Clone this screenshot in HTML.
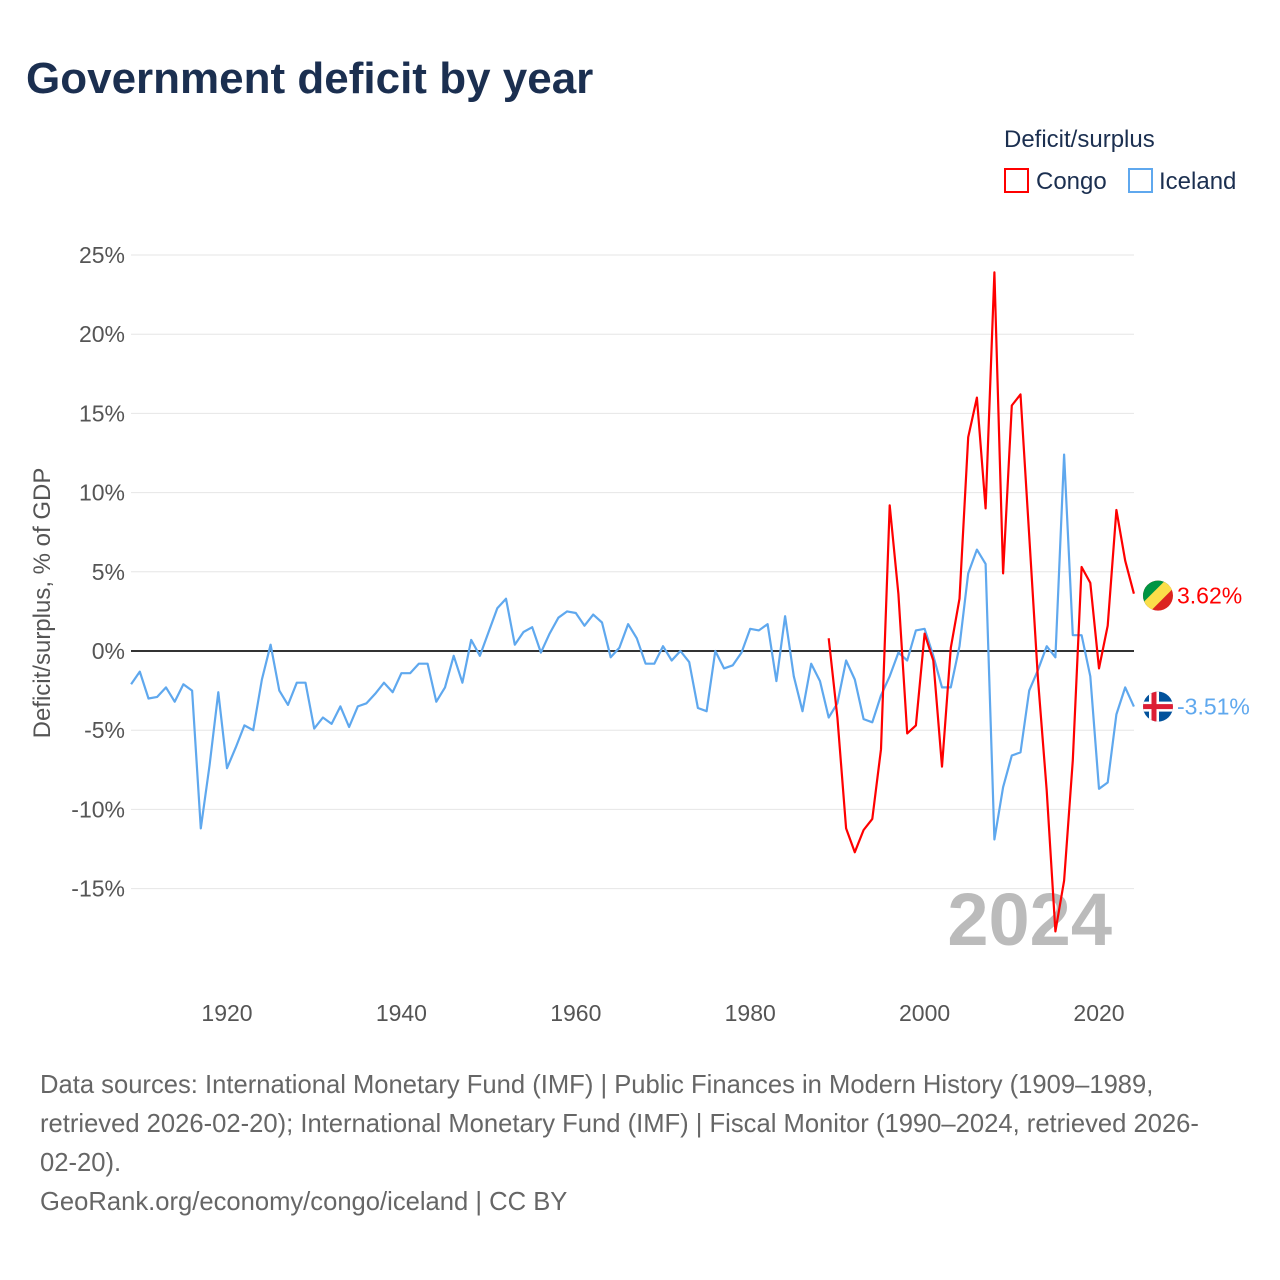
<!DOCTYPE html>
<html><head><meta charset="utf-8">
<style>
body{margin:0;background:#fff;font-family:"Liberation Sans",sans-serif;}
#wrap{position:relative;width:1280px;height:1280px;overflow:hidden;}
</style></head>
<body>
<div id="wrap">
<svg id="chart" width="1280" height="1280" xmlns="http://www.w3.org/2000/svg">
<text x="26" y="93" font-size="44" font-weight="bold" fill="#1b2f50">Government deficit by year</text>
<text x="1004" y="147" font-size="24" fill="#1b2f50">Deficit/surplus</text>
<g>
<rect x="1005" y="169" width="23" height="23" fill="none" stroke="#ff0000" stroke-width="2"/>
<text x="1036" y="189" font-size="24" fill="#1b2f50">Congo</text></g>
<g>
<rect x="1129" y="169" width="23" height="23" fill="none" stroke="#5fa8ee" stroke-width="2"/>
<text x="1159" y="189" font-size="24" fill="#1b2f50">Iceland</text></g>
<text transform="translate(50,603) rotate(-90)" text-anchor="middle" font-size="24" fill="#555">Deficit/surplus, % of GDP</text>
<g id="grid"></g>
<text x="1112" y="945" text-anchor="end" font-size="74" font-weight="bold" fill="#bbbbbb">2024</text>
<g id="series"></g>
<text x="40" y="1093" font-size="25.6" fill="#666">Data sources: International Monetary Fund (IMF) | Public Finances in Modern History (1909–1989,</text>
<text x="40" y="1132" font-size="25.6" fill="#666">retrieved 2026-02-20); International Monetary Fund (IMF) | Fiscal Monitor (1990–2024, retrieved 2026-</text>
<text x="40" y="1171" font-size="25.6" fill="#666">02-20).</text>
<text x="40" y="1210" font-size="25.6" fill="#666">GeoRank.org/economy/congo/iceland | CC BY</text>
</svg>
</div>
<script>
const yTicks=[25,20,15,10,5,0,-5,-10,-15];
const xTicks=[1920,1940,1960,1980,2000,2020];
const icelandStart=1909;
const icelandValues=[-2.1,-1.3,-3.0,-2.9,-2.3,-3.2,-2.1,-2.5,-11.2,-7.2,-2.6,-7.4,-6.1,-4.7,-5.0,-1.8,0.4,-2.5,-3.4,-2.0,-2.0,-4.9,-4.2,-4.6,-3.5,-4.8,-3.5,-3.3,-2.7,-2.0,-2.6,-1.4,-1.4,-0.8,-0.8,-3.2,-2.3,-0.3,-2.0,0.7,-0.3,1.2,2.7,3.3,0.4,1.2,1.5,-0.1,1.1,2.1,2.5,2.4,1.6,2.3,1.8,-0.4,0.2,1.7,0.8,-0.8,-0.8,0.3,-0.6,0,-0.7,-3.6,-3.8,0,-1.1,-0.9,-0.1,1.4,1.3,1.7,-1.9,2.2,-1.6,-3.8,-0.8,-1.9,-4.2,-3.3,-0.6,-1.8,-4.3,-4.5,-2.8,-1.6,-0.1,-0.6,1.3,1.4,-0.3,-2.3,-2.3,0.3,4.9,6.4,5.5,-11.9,-8.6,-6.6,-6.4,-2.5,-1.2,0.3,-0.4,12.4,1.0,1.0,-1.6,-8.7,-8.3,-4.0,-2.3,-3.51];
const congoStart=1989;
const congoValues=[0.8,-4.2,-11.2,-12.7,-11.3,-10.6,-6.2,9.2,3.6,-5.2,-4.7,1.1,-0.6,-7.3,0.2,3.3,13.5,16.0,9.0,23.9,4.9,15.5,16.2,7.3,-1.8,-8.8,-17.7,-14.5,-6.9,5.3,4.3,-1.1,1.6,8.9,5.7,3.62];
const NS="http://www.w3.org/2000/svg";
const X=y=>227+(y-1920)*8.72;
const Y=v=>651-v*15.84;
function mk(t,a,p){const e=document.createElementNS(NS,t);for(const k in a)e.setAttribute(k,a[k]);p.appendChild(e);return e;}
const grid=document.getElementById('grid');
yTicks.forEach(v=>{
  const l=mk('line',{x1:131,x2:1134,y1:Y(v),y2:Y(v),stroke:v===0?'#333':'#e6e6e6','stroke-width':v===0?2:1},grid);
  
  
  const t=mk('text',{x:125,y:Y(v)+8,'text-anchor':'end','font-size':23,fill:'#555'},grid);
  t.textContent=v+'%';
  
  
});
xTicks.forEach(yr=>{
  const t=mk('text',{x:X(yr),y:1021,'text-anchor':'middle','font-size':23,fill:'#555'},grid);
  t.textContent=yr;
  
  
});
const s=document.getElementById('series');
function line(start,vals,col,name){
  const d=vals.map((v,i)=>(i?'L':'M')+X(start+i).toFixed(1)+','+Y(v).toFixed(1)).join('');
  const p=mk('path',{d:d,fill:'none',stroke:col,'stroke-width':2.2,'stroke-linejoin':'round'},s);
  
  
}
line(icelandStart,icelandValues,'#5fa8ee','iceland-line');
line(congoStart,congoValues,'#ff0000','congo-line');
const cv=congoValues[congoValues.length-1], iv=icelandValues[icelandValues.length-1];
const cy=Y(cv)+2, iy=Y(iv);
const cf=mk('g',{},s);


mk('clipPath',{id:'cc'},cf).appendChild(document.createElementNS(NS,'circle')).setAttribute('r',15);
document.querySelector('#cc circle').setAttribute('cx',1158);document.querySelector('#cc circle').setAttribute('cy',cy);
const cg=mk('g',{'clip-path':'url(#cc)'},cf);
mk('rect',{x:1140,y:cy-18,width:36,height:36,fill:'#dc241f'},cg);
mk('polygon',{points:`1140,${cy+18} 1140,${cy-18} 1176,${cy-18}`,fill:'#009543'},cg);
mk('polygon',{points:`1140,${cy+10} 1168,${cy-18} 1176,${cy-18} 1176,${cy-10} 1148,${cy+18} 1140,${cy+18}`,fill:'#fbde4a'},cg);
const ct=mk('text',{x:1177,y:cy+8,'font-size':23,fill:'#ff0000'},s);
ct.textContent=cv.toFixed(2)+'%';


const ifl=mk('g',{},s);


mk('clipPath',{id:'ic'},ifl).appendChild(document.createElementNS(NS,'circle')).setAttribute('r',15);
document.querySelector('#ic circle').setAttribute('cx',1158);document.querySelector('#ic circle').setAttribute('cy',iy);
const ig=mk('g',{'clip-path':'url(#ic)'},ifl);
mk('rect',{x:1140,y:iy-18,width:36,height:36,fill:'#02529c'},ig);
mk('rect',{x:1140,y:iy-5,width:36,height:10,fill:'#fff'},ig);
mk('rect',{x:1149,y:iy-18,width:10,height:36,fill:'#fff'},ig);
mk('rect',{x:1140,y:iy-2.5,width:36,height:5,fill:'#dc1e35'},ig);
mk('rect',{x:1151.5,y:iy-18,width:5,height:36,fill:'#dc1e35'},ig);
const it=mk('text',{x:1177,y:iy+8,'font-size':23,fill:'#5fa8ee'},s);
it.textContent=iv.toFixed(2)+'%';


</script>
</body></html>
